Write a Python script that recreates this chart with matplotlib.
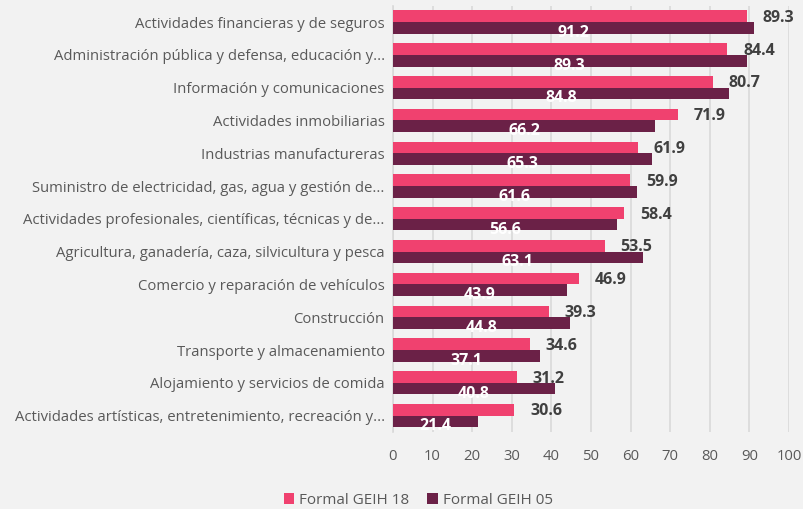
import numpy as np
import matplotlib.pyplot as plt

plt.rcParams['font.family'] = ['Open Sans', 'DejaVu Sans']

categorias = [
    'Actividades financieras y de seguros',
    'Administración pública y defensa, educación y...',
    'Información y comunicaciones',
    'Actividades inmobiliarias',
    'Industrias manufactureras',
    'Suministro de electricidad, gas, agua y gestión de...',
    'Actividades profesionales, científicas, técnicas y de...',
    'Agricultura, ganadería, caza, silvicultura y pesca',
    'Comercio y reparación de vehículos',
    'Construcción',
    'Transporte y almacenamiento',
    'Alojamiento y servicios de comida',
    'Actividades artísticas, entretenimiento, recreación y...',
]
geih_18 = [89.3, 84.4, 80.7, 71.9, 61.9, 59.9, 58.4, 53.5, 46.9, 39.3, 34.6, 31.2, 30.6]
geih_05 = [91.2, 89.3, 84.8, 66.2, 65.3, 61.6, 56.6, 63.1, 43.9, 44.8, 37.1, 40.8, 21.4]

rosa = '#f0416f'
vino = '#6b2147'
fondo = '#f2f2f2'

fig = plt.figure(figsize=(8.04, 5.09), dpi=100, facecolor=fondo)
ax = fig.add_axes([0.4888, 0.1513, 0.4925, 0.8375], facecolor=fondo)

y = np.arange(len(categorias))
h = 0.355
b1 = ax.barh(y - h/2, geih_18, height=h, color=rosa, label='Formal GEIH 18', zorder=3)
b2 = ax.barh(y + h/2, geih_05, height=h, color=vino, label='Formal GEIH 05', zorder=3)

# etiquetas de valores
for yi, v in zip(y, geih_18):
    ax.text(v + 4, yi - h/2 + 0.05, f'{v:.1f}', ha='left', va='center',
            fontsize=11.5, fontweight='bold', color='#404040', zorder=4)
for yi, v in zip(y, geih_05):
    ax.text(v / 2, yi + h/2 + 0.15, f'{v:.1f}', ha='center', va='center',
            fontsize=11.5, fontweight='bold', color='white', zorder=4)

ax.set_xlim(0, 100)
ax.set_ylim(len(categorias) - 0.5, -0.5)
ax.set_xticks(np.arange(0, 101, 10))
ax.set_yticks(y)
ax.set_yticklabels(categorias)
ax.tick_params(axis='both', length=0, labelsize=10.7, colors='#595959')
ax.tick_params(axis='x', pad=12)
ax.tick_params(axis='y', pad=6)
ax.grid(axis='x', color='#d9d9d9', linewidth=1.2, zorder=0)
for s in ['top', 'right', 'bottom']:
    ax.spines[s].set_visible(False)
ax.spines['left'].set_color('#d9d9d9')
ax.spines['left'].set_linewidth(1.2)

fig.legend(handles=[b1, b2], loc='lower center', bbox_to_anchor=(0.52, -0.025), ncol=2,
           frameon=False, fontsize=11, labelcolor='#595959', handlelength=0.7,
           handleheight=0.7, handletextpad=0.3, columnspacing=1.2)

fig.savefig('out.png', dpi=100, facecolor=fondo)
